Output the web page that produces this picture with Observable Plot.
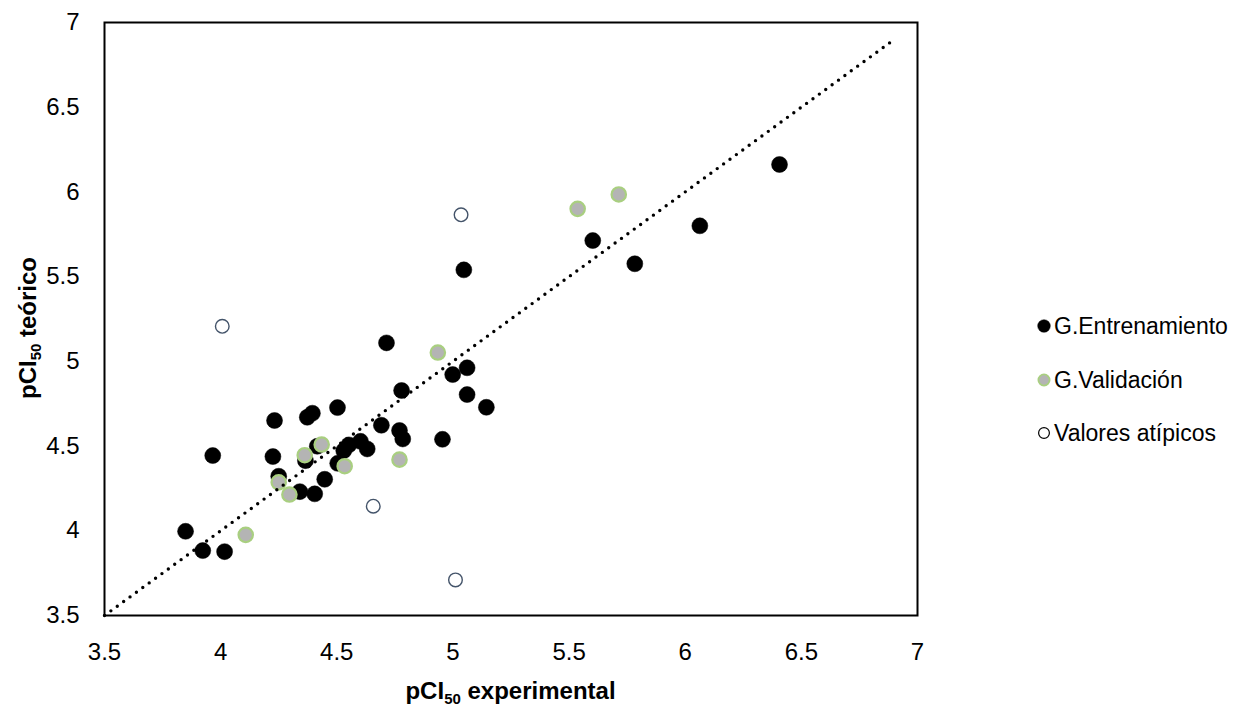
<!DOCTYPE html>
<html>
<head>
<meta charset="utf-8">
<script src="https://cdn.jsdelivr.net/npm/d3@7"></script>
<script src="https://cdn.jsdelivr.net/npm/@observablehq/plot@0.6"></script>
<style>
  html, body { margin: 0; padding: 0; background: #fff; }
  #wrap { position: relative; width: 1234px; height: 711px; font-family: "Liberation Sans", Arial, sans-serif; }
  #legend { position: absolute; left: 1036px; top: 0; font-size: 23px; color: #000; }
  .row { position: absolute; left: 0; white-space: nowrap; display: flex; align-items: center; height: 30px; }
  .row svg { margin-right: 2px; }
</style>
</head>
<body>
<div id="wrap"></div>
<script>
// ---- data ----
const trainX = [6.406, 6.063, 5.602, 5.783, 5.047, 4.714, 5.061, 4.999, 4.779, 5.061, 5.144, 4.232, 4.373, 4.395, 4.503, 4.692, 4.770, 4.784, 4.955, 3.966, 4.225, 4.416, 4.552, 4.602, 4.631, 4.530, 4.365, 4.504, 4.250, 4.341, 4.405, 4.448, 3.849, 3.923, 4.017];
const trainY = [6.162, 5.800, 5.713, 5.576, 5.540, 5.109, 4.962, 4.922, 4.828, 4.804, 4.729, 4.651, 4.670, 4.694, 4.727, 4.623, 4.592, 4.542, 4.540, 4.444, 4.438, 4.499, 4.507, 4.528, 4.483, 4.473, 4.414, 4.398, 4.322, 4.231, 4.218, 4.304, 3.997, 3.883, 3.877];
const valX = [4.935, 5.537, 5.714, 4.435, 4.362, 4.534, 4.250, 4.296, 4.770, 4.108];
const valY = [5.052, 5.900, 5.985, 4.509, 4.446, 4.381, 4.286, 4.214, 4.420, 3.976];
const outX = [4.007, 5.035, 4.657, 5.011];
const outY = [5.207, 5.865, 4.145, 3.710];
const lineX = [3.5, 6.88];
const lineY = [3.5, 6.88];
const ticks = [3.5, 4, 4.5, 5, 5.5, 6, 6.5, 7];
const tickLabels = ["3.5", "4", "4.5", "5", "5.5", "6", "6.5", "7"];
const seriesNames = ["G.Entrenamiento", "G.Validación", "Valores atípicos"];
const xTitle = ["pCI", "50", " experimental"];
const yTitle = ["pCI", "50", " teórico"];

const train = trainX.map((x, i) => ({x, y: trainY[i]}));
const val = valX.map((x, i) => ({x, y: valY[i]}));
const out = outX.map((x, i) => ({x, y: outY[i]}));
const line = lineX.map((x, i) => ({x, y: lineY[i]}));
const fmt = d => tickLabels[ticks.indexOf(d)];

const ML = 104, MR = 317, MT = 22, MB = 96;

const chart = Plot.plot({
  width: 1234,
  height: 711,
  marginLeft: ML,
  marginRight: MR,
  marginTop: MT,
  marginBottom: MB,
  style: { fontFamily: "'Liberation Sans', Arial, sans-serif", fontSize: "24px", color: "#000", background: "#fff" },
  x: { domain: [3.5, 7], ticks: ticks, tickFormat: fmt, label: null },
  y: { domain: [3.5, 7], ticks: ticks, tickFormat: fmt, label: null },
  marks: [
    Plot.axisX({ticks: ticks, tickFormat: fmt, tickSize: 0, tickPadding: 27, label: null, fontSize: 24}),
    Plot.axisY({ticks: ticks, tickFormat: fmt, tickSize: 0, tickPadding: 25, label: null, fontSize: 24}),
    Plot.dot(train, {x: "x", y: "y", r: 8, fill: "#000", stroke: "#000", strokeWidth: 0.5}),
    Plot.dot(val, {x: "x", y: "y", r: 7.2, fill: "#b4b4b4", stroke: "#a9cf80", strokeWidth: 2.2}),
    Plot.dot(out, {x: "x", y: "y", r: 6.8, fill: "#fff", stroke: "#44546a", strokeWidth: 1.4}),
    Plot.line(line, {x: "x", y: "y", stroke: "#000", strokeWidth: 3.4, strokeDasharray: "0 7.9", strokeLinecap: "round"}),
    Plot.frame({stroke: "#000", strokeWidth: 2})
  ]
});

document.getElementById("wrap").appendChild(chart);

// axis titles with subscript
const svg = d3.select(chart);
function addTitle(parts, x, y, rotate) {
  const t = svg.append("text")
    .attr("transform", `translate(${x},${y})` + (rotate ? " rotate(-90)" : ""))
    .attr("text-anchor", "middle")
    .attr("font-weight", "bold")
    .attr("font-size", 24)
    .attr("font-family", "'Liberation Sans', Arial, sans-serif")
    .attr("fill", "#000");
  t.append("tspan").text(parts[0]);
  t.append("tspan").attr("font-size", 15).attr("dy", 5).text(parts[1]);
  t.append("tspan").attr("dy", -5).text(parts[2]);
}
addTitle(xTitle, (ML + 1234 - MR) / 2, 699, false);
addTitle(yTitle, 36, 328, true);

// legend
const legend = d3.select("#wrap").append("div").attr("id", "legend");
const markers = [
  {r: 6.3, fill: "#000", stroke: "#000", sw: 0.5},
  {r: 5.6, fill: "#b4b4b4", stroke: "#a9cf80", sw: 1.8},
  {r: 5.4, fill: "#fff", stroke: "#000", sw: 1.2}
];
const rowCenters = [326, 380, 433];
seriesNames.forEach((name, i) => {
  const row = legend.append("div").attr("class", "row").style("top", (rowCenters[i] - 15) + "px");
  const s = row.append("svg").attr("width", 16).attr("height", 16);
  s.append("circle").attr("cx", 8).attr("cy", 8).attr("r", markers[i].r)
    .attr("fill", markers[i].fill).attr("stroke", markers[i].stroke).attr("stroke-width", markers[i].sw);
  row.append("span").text(name);
});
</script>
</body>
</html>
